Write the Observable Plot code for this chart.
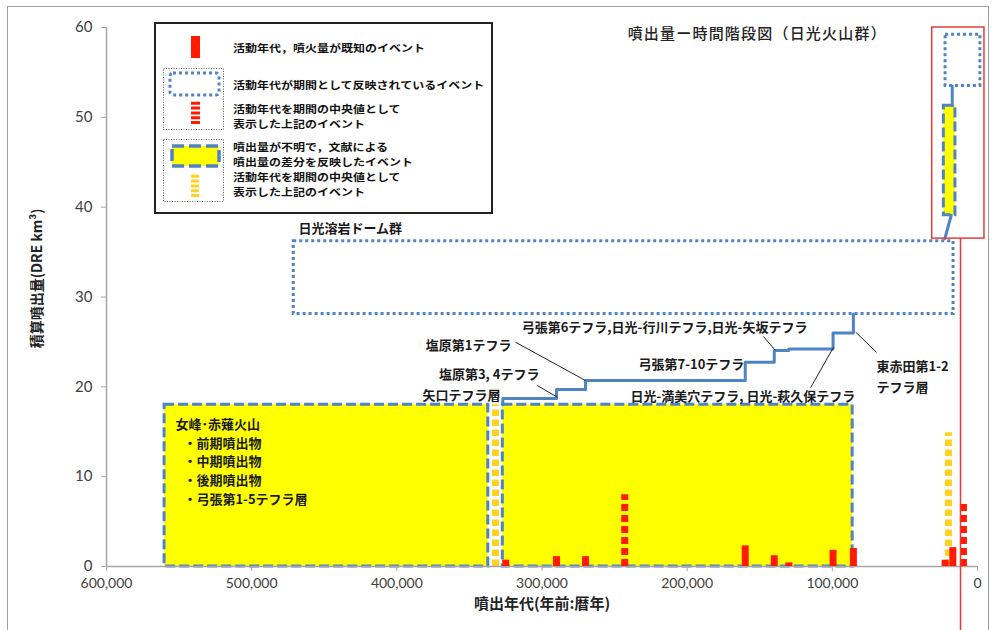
<!DOCTYPE html>
<html><head><meta charset="utf-8">
<script src="https://cdn.jsdelivr.net/npm/d3@7"></script>
<script src="https://cdn.jsdelivr.net/npm/@observablehq/plot@0.6"></script>
<style>
body{margin:0;background:#fff;overflow:hidden;}
#wrap{position:relative;width:997px;height:630px;overflow:hidden;}
#frame{position:absolute;left:7px;top:6px;width:982px;height:700px;border:1px solid #a0a0a0;box-sizing:border-box;}
#wrap svg.plot{position:absolute;left:0;top:0;}
g[aria-label="x-axis tick"], g[aria-label="y-axis tick"]{stroke:#a6a6a6;}
#legend{position:absolute;left:0;top:0;}
#legend text{font-family:"Noto Sans CJK JP",sans-serif;font-size:12px;font-weight:bold;fill:#111;dominant-baseline:central;}
</style></head><body>
<div id="wrap"><div id="frame"></div></div>
<script>
// ---- data (ages in years BP, volumes in DRE km3) ----
const xTicks = [600000, 500000, 400000, 300000, 200000, 100000, 0];
const yTicks = [0, 10, 20, 30, 40, 50, 60];

// events with known age and volume (solid red bars)
const knownAges    = [325000, 290000, 270000, 160000, 140000, 130000, 99500, 85500, 22300, 17000];
const knownVolumes = [0.7, 1.1, 1.1, 2.3, 1.2, 0.4, 1.8, 2.0, 0.7, 2.1];

// period events shown at their median age (red dashed bars)
const periodMidAges    = [243000, 9700];
const periodMidVolumes = [8.0, 7.0];

// unknown-volume events shown at their median age (yellow dashed bars)
const unknownMidAges    = [332000, 20000];
const unknownMidVolumes = [18.0, 14.9];

// period events (blue dotted boxes)
const periodBoxStart  = [471000, 22000];
const periodBoxEnd    = [16500, -2000];
const periodBoxLow    = [28.1, 53.5];
const periodBoxHigh   = [36.2, 59.2];

// unknown-volume events (yellow boxes)
const unknownBoxStart = [560000, 327000, 23200];
const unknownBoxEnd   = [337000, 86000, 15200];
const unknownBoxLow   = [0, 0, 39.1];
const unknownBoxHigh  = [18, 18, 51.3];

// cumulative step line
const stepAges = [327000, 327000, 290000, 270000, 160000, 140000, 130000, 99500, 85500];
const stepCum  = [18.0, 18.7, 19.7, 20.7, 22.75, 24.05, 24.2, 26.0, 28.1];

// inset connecting segments
const insetSeg1Ages = [22500, 18100];
const insetSeg1Cum  = [36.5, 39.1];
const insetSeg2Ages = [17400, 17400];
const insetSeg2Cum  = [51.3, 53.5];

// enlarged-region box (red) and guide line
const zoomBoxAges = [31200, -4800];
const zoomBoxCum  = [36.5, 60];
const guideAge = 11700;
const guideCum = [-7.5, 36.5];

// annotations
const labelTexts = ["日光溶岩ドーム群", "弓張第6テフラ,日光-行川テフラ,日光-矢坂テフラ", "塩原第1テフラ", "塩原第3, 4テフラ", "矢口テフラ層", "弓張第7-10テフラ", "日光-満美穴テフラ, 日光-萩久保テフラ", "東赤田第1-2", "テフラ層", "女峰･赤薙火山", "・前期噴出物", "・中期噴出物", "・後期噴出物", "・弓張第1-5テフラ層"];
const labelAges = [467800, 314000, 380000, 371000, 382300, 233500, 239000, 69600, 69600, 552500, 547000, 547000, 547000, 547000];
const labelCum  = [37.6, 26.6, 24.6, 21.3, 19.0, 22.5, 18.9, 22.2, 19.9, 15.8, 13.7, 11.6, 9.5, 7.4];

const leaderFromAges = [147400, 318300, 303300, 115000, 84000];
const leaderFromCum  = [25.6, 24.97, 20.15, 19.9, 26.1];
const leaderToAges   = [139200, 270000, 289500, 99200, 69600];
const leaderToCum    = [24.05, 20.7, 18.85, 24.4, 23.85];

const chartTitle = "噴出量ー時間階段図（日光火山群）";
const xTitle = "噴出年代(年前:暦年)";
const yTitle = "積算噴出量(DRE km³)";

// legend entries
const legendTexts = ["活動年代，噴火量が既知のイベント", "活動年代が期間として反映されているイベント", "活動年代を期間の中央値として", "表示した上記のイベント", "噴出量が不明で，文献による", "噴出量の差分を反映したイベント", "活動年代を期間の中央値として", "表示した上記のイベント"];

// ---- tables ----
const known = knownAges.map((a, i) => ({age: a, v: knownVolumes[i]}));
const periodMid = periodMidAges.map((a, i) => ({age: a, v: periodMidVolumes[i]}));
const unknownMid = unknownMidAges.map((a, i) => ({age: a, v: unknownMidVolumes[i]}));
const periodBoxes = periodBoxStart.map((s, i) => ({x1: s, x2: periodBoxEnd[i], y1: periodBoxLow[i], y2: periodBoxHigh[i]}));
const unknownBoxes = unknownBoxStart.map((s, i) => ({x1: s, x2: unknownBoxEnd[i], y1: unknownBoxLow[i], y2: unknownBoxHigh[i]}));
const steps = stepAges.map((a, i) => ({age: a, cum: stepCum[i]}));
const seg1 = insetSeg1Ages.map((a, i) => ({age: a, cum: insetSeg1Cum[i]}));
const seg2 = insetSeg2Ages.map((a, i) => ({age: a, cum: insetSeg2Cum[i]}));
const zoomBox = [{x1: zoomBoxAges[0], x2: zoomBoxAges[1], y1: zoomBoxCum[0], y2: zoomBoxCum[1]}];
const labels = labelTexts.map((t, i) => ({t, age: labelAges[i], cum: labelCum[i]}));
const leaders = leaderFromAges.map((a, i) => ({x1: a, y1: leaderFromCum[i], x2: leaderToAges[i], y2: leaderToCum[i]}));

const blue = "#4f84c4";
const red = "#ff1a00";

const chart = Plot.plot({
  width: 997, height: 630,
  marginLeft: 106, marginRight: 20, marginTop: 27, marginBottom: 64,
  x: {domain: [600000, 0]},
  y: {domain: [0, 60]},
  style: {fontFamily: "Lato, 'Noto Sans CJK JP', sans-serif", color: "#404040", background: "transparent", overflow: "visible"},
  marks: [
    Plot.rect(unknownBoxes, {x1: "x1", x2: "x2", y1: "y1", y2: "y2", fill: "#ffff00", stroke: blue, strokeWidth: 3, strokeDasharray: "10,4"}),
    Plot.ruleX(unknownMid, {x: "age", y1: 0, y2: "v", stroke: "#ffd21f", strokeWidth: 7, strokeDasharray: "6.5,3.5"}),
    Plot.rect(periodBoxes, {x1: "x1", x2: "x2", y1: "y1", y2: "y2", fill: "none", stroke: blue, strokeWidth: 3, strokeDasharray: "3,3"}),
    Plot.ruleY([0], {stroke: "#a6a6a6", strokeWidth: 1.5}),
    Plot.ruleX([600000], {stroke: "#a6a6a6", strokeWidth: 1.5}),
    Plot.line(steps, {x: "age", y: "cum", curve: "step-after", stroke: blue, strokeWidth: 3}),
    Plot.line(seg1, {x: "age", y: "cum", stroke: blue, strokeWidth: 3}),
    Plot.line(seg2, {x: "age", y: "cum", stroke: blue, strokeWidth: 3}),
    Plot.ruleX(known, {x: "age", y1: 0, y2: "v", stroke: red, strokeWidth: 7}),
    Plot.ruleX(periodMid, {x: "age", y1: 0, y2: "v", stroke: red, strokeWidth: 7, strokeDasharray: "7,4"}),
    Plot.rect(zoomBox, {x1: "x1", x2: "x2", y1: "y1", y2: "y2", fill: "none", stroke: "#e53b3b", strokeWidth: 1.5}),
    Plot.ruleX([guideAge], {y1: guideCum[0], y2: guideCum[1], stroke: "#e53b3b", strokeWidth: 1.5}),
    Plot.link(leaders, {x1: "x1", y1: "y1", x2: "x2", y2: "y2", stroke: "#222", strokeWidth: 1}),
    Plot.text(labels, {x: "age", y: "cum", text: "t", textAnchor: "start", fontSize: 13, fontWeight: "bold", fill: "#1a1a1a", fontFamily: "'Noto Sans CJK JP', sans-serif"}),
    Plot.axisX(xTicks, {tickFormat: d3.format(","), tickSize: 5, tickPadding: 7, fontSize: 14, label: null}),
    Plot.axisY(yTicks, {tickSize: 5, tickPadding: 9, fontSize: 15, label: null}),
    Plot.text([xTitle], {x: 300000, frameAnchor: "bottom", dy: 42, text: d => d, fontSize: 15, fontWeight: "bold", fill: "#222", fontFamily: "'Noto Sans CJK JP', sans-serif"}),
    Plot.text([yTitle], {frameAnchor: "left", dx: -69, y: 24.3, text: d => d, rotate: -90, fontSize: 14, fontWeight: "bold", fill: "#222", fontFamily: "'Noto Sans CJK JP', sans-serif"}),
    Plot.text([chartTitle], {x: 241000, y: 59.3, text: d => d, textAnchor: "start", fontSize: 15, fontWeight: 500, fill: "#222", fontFamily: "'Noto Sans CJK JP', sans-serif"})
  ]
});
chart.classList.add("plot");
d3.select(chart).selectAll("text").filter(function() { return this.textContent === chartTitle; }).style("letter-spacing", "1.2px");
document.getElementById("wrap").appendChild(chart);

// legend (inside the plot area, upper left)
const legendRows = [47, 84, 108, 123, 146, 161, 176, 191];
const lgText = legendTexts.map((t, i) =>
  `<text transform="translate(233,${legendRows[i]}) scale(1,0.84)" x="0" y="0">${t}</text>`).join("");
const lg = `
<svg id="legend" width="997" height="630" xmlns="http://www.w3.org/2000/svg">
  <rect x="155" y="23" width="337" height="190" fill="#fff" stroke="#222" stroke-width="2"/>
  <rect x="191" y="36" width="9" height="22" fill="${red}"/>
  <rect x="163.5" y="68.5" width="60" height="61" fill="none" stroke="#666" stroke-width="1" stroke-dasharray="1,1.5"/>
  <rect x="170" y="73" width="49" height="22" rx="3" fill="none" stroke="${blue}" stroke-width="3" stroke-dasharray="3,3"/>
  <line x1="195.5" x2="195.5" y1="124" y2="101" stroke="${red}" stroke-width="9" stroke-dasharray="3,1.8"/>
  <rect x="163.5" y="139.5" width="60" height="62" fill="none" stroke="#666" stroke-width="1" stroke-dasharray="1,1.5"/>
  <rect x="172" y="146" width="47" height="20" fill="#ffff00" stroke="${blue}" stroke-width="3.5" stroke-dasharray="12,5"/>
  <line x1="195" x2="195" y1="197" y2="173" stroke="#ffd21f" stroke-width="8" stroke-dasharray="3,1.8"/>
  ${lgText}
</svg>`;
document.getElementById("wrap").insertAdjacentHTML("beforeend", lg);
</script>
</body></html>
